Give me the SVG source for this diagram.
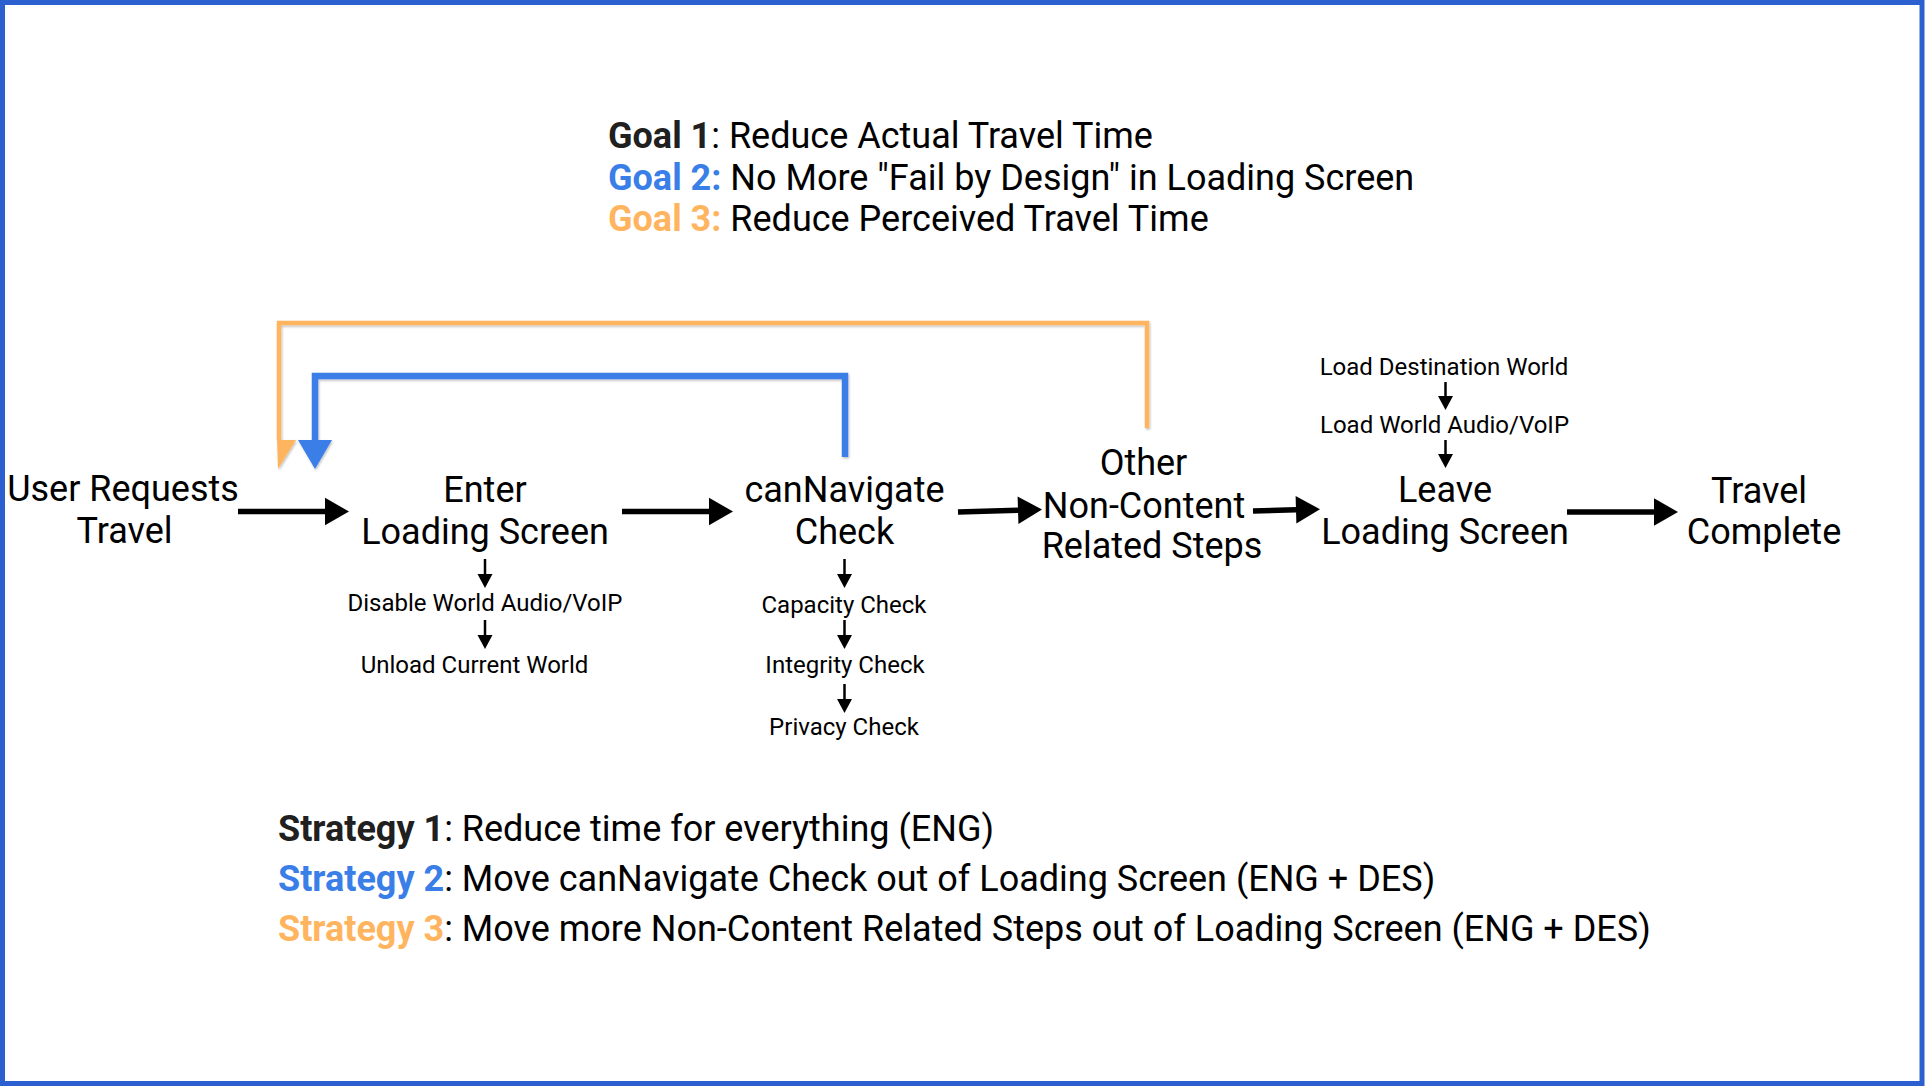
<svg xmlns="http://www.w3.org/2000/svg" width="1926" height="1086" viewBox="0 0 1926 1086">
<style>
text{font-family:Roboto,"Liberation Sans",sans-serif;fill:#000}
.big{font-size:36px;text-anchor:middle}
.small{font-size:24px;text-anchor:middle}
.leg{font-size:36px}
.b{font-weight:bold}
.k{fill:#202020}
.bl{fill:#3a7ee8}
.or{fill:#ffb560}
.main{stroke:#000;stroke-width:5.5;fill:none}
.sm{stroke:#000;stroke-width:2.5;fill:none}
</style>
<defs>
<marker id="ahMain" markerUnits="userSpaceOnUse" markerWidth="25" markerHeight="28" refX="0" refY="13.75" orient="auto" overflow="visible">
<path d="M0,0 L24,13.75 L0,27.5 z" fill="#000"/>
</marker>
<marker id="ahSmall" markerUnits="userSpaceOnUse" markerWidth="15" markerHeight="16" refX="0" refY="7.5" orient="auto" overflow="visible">
<path d="M0,0 L14,7.5 L0,15 z" fill="#000"/>
</marker>
<marker id="ahBlue" markerUnits="userSpaceOnUse" markerWidth="30" markerHeight="35" refX="0" refY="17" orient="auto" overflow="visible">
<path d="M0,0 L29,17 L0,34 z" fill="#3a7ee8"/>
</marker>
<filter id="sh" x="-5%" y="-5%" width="110%" height="110%">
<feDropShadow dx="1" dy="1.5" stdDeviation="1.2" flood-color="#000" flood-opacity="0.25"/>
</filter>
</defs>
<rect x="2.5" y="2.5" width="1919.5" height="1081" fill="#fff" stroke="#2c5fcf" stroke-width="5"/>

<g id="goals">
<text class="leg" x="608" y="148"><tspan class="b k">Goal 1</tspan>: Reduce Actual Travel Time</text>
<text class="leg" x="608" y="190"><tspan class="b bl">Goal 2:</tspan> No More "Fail by Design" in Loading Screen</text>
<text class="leg" x="608" y="231"><tspan class="b or">Goal 3:</tspan> Reduce Perceived Travel Time</text>
</g>

<g id="connectors">
<g filter="url(#sh)">
<path d="M1147,428 V323 H279 V440" stroke="#ffb560" stroke-width="4.5" fill="none"/>
<polygon points="277,440 296,440 278,469" fill="#ffb560"/>
<path d="M845,457 V376 H315 V440" stroke="#3a7ee8" stroke-width="6.5" fill="none" marker-end="url(#ahBlue)"/>
</g>
<line class="main" x1="238" y1="511.5" x2="325" y2="511.5" marker-end="url(#ahMain)"/>
<line class="main" x1="622" y1="511.5" x2="709" y2="511.5" marker-end="url(#ahMain)"/>
<line class="main" x1="958" y1="512" x2="1018" y2="510.2" marker-end="url(#ahMain)"/>
<line class="main" x1="1253" y1="511" x2="1296" y2="509.8" marker-end="url(#ahMain)"/>
<line class="main" x1="1567" y1="512" x2="1654" y2="512" marker-end="url(#ahMain)"/>
<line class="sm" x1="485" y1="559" x2="485" y2="574" marker-end="url(#ahSmall)"/>
<line class="sm" x1="485" y1="620" x2="485" y2="635" marker-end="url(#ahSmall)"/>
<line class="sm" x1="844.5" y1="559" x2="844.5" y2="574" marker-end="url(#ahSmall)"/>
<line class="sm" x1="844.5" y1="620" x2="844.5" y2="635" marker-end="url(#ahSmall)"/>
<line class="sm" x1="844.5" y1="684" x2="844.5" y2="699" marker-end="url(#ahSmall)"/>
<line class="sm" x1="1445.5" y1="382" x2="1445.5" y2="396" marker-end="url(#ahSmall)"/>
<line class="sm" x1="1445.5" y1="440" x2="1445.5" y2="454" marker-end="url(#ahSmall)"/>
</g>

<g id="node-user-requests">
<text class="big" x="123" y="501">User Requests</text>
<text class="big" x="124.5" y="543">Travel</text>
</g>
<g id="node-enter-loading">
<text class="big" x="485" y="502">Enter</text>
<text class="big" x="485" y="544">Loading Screen</text>
</g>
<g id="node-disable-audio">
<text class="small" x="485" y="611">Disable World Audio/VoIP</text>
</g>
<g id="node-unload-world">
<text class="small" x="474.5" y="673">Unload Current World</text>
</g>
<g id="node-cannavigate">
<text class="big" x="844.5" y="502">canNavigate</text>
<text class="big" x="844.5" y="544">Check</text>
</g>
<g id="node-capacity">
<text class="small" x="844" y="613">Capacity Check</text>
</g>
<g id="node-integrity">
<text class="small" x="845" y="673">Integrity Check</text>
</g>
<g id="node-privacy">
<text class="small" x="844" y="735">Privacy Check</text>
</g>
<g id="node-other-steps">
<text class="big" x="1143.5" y="475">Other</text>
<text class="big" x="1144" y="518">Non-Content</text>
<text class="big" x="1152" y="558">Related Steps</text>
</g>
<g id="node-load-destination">
<text class="small" x="1444" y="375">Load Destination World</text>
</g>
<g id="node-load-audio">
<text class="small" x="1444.5" y="433">Load World Audio/VoIP</text>
</g>
<g id="node-leave-loading">
<text class="big" x="1445" y="502">Leave</text>
<text class="big" x="1445" y="544">Loading Screen</text>
</g>
<g id="node-travel-complete">
<text class="big" x="1759" y="503">Travel</text>
<text class="big" x="1764" y="544">Complete</text>
</g>

<g id="strategies">
<text class="leg" x="278" y="841"><tspan class="b k">Strategy 1</tspan>: Reduce time for everything (ENG)</text>
<text class="leg" x="278" y="891"><tspan class="b bl">Strategy 2</tspan>: Move canNavigate Check out of Loading Screen (ENG + DES)</text>
<text class="leg" x="278" y="941"><tspan class="b or">Strategy 3</tspan>: Move more Non-Content Related Steps out of Loading Screen (ENG + DES)</text>
</g>
</svg>
